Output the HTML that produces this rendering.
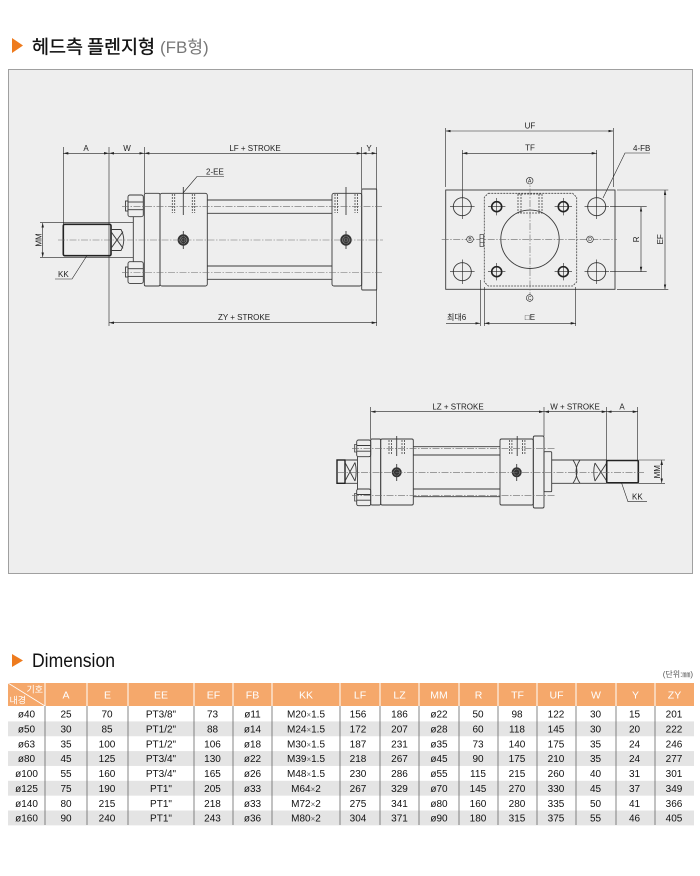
<!DOCTYPE html>
<html><head><meta charset="utf-8">
<style>
html,body{margin:0;padding:0;background:#fff;}
svg{display:block}
.o{fill:none;stroke:#3a3a3a;stroke-width:0.9}
.ob{fill:none;stroke:#222;stroke-width:1.6}
.d{fill:none;stroke:#222;stroke-width:0.6}
.c{fill:none;stroke:#6a6a6a;stroke-width:0.6;stroke-dasharray:7 1.5 1.5 1.5}
.h{fill:none;stroke:#444;stroke-width:0.8;stroke-dasharray:2 1}
.t{font-size:8px;fill:#222}
.hd{font-size:10.5px;fill:#fff}
.r{font-size:10px;fill:#111}
</style></head><body>
<svg width="700" height="876" viewBox="0 0 700 876" xmlns="http://www.w3.org/2000/svg" font-family="'Liberation Sans','Noto Sans CJK KR',sans-serif">
<defs>
<marker id="a" viewBox="0 0 8 4" refX="8" refY="2" markerWidth="5" markerHeight="2.5" orient="auto-start-reverse" markerUnits="userSpaceOnUse"><path d="M0,0 L8,2 L0,4z" fill="#222"/></marker>
</defs>

<!-- Title -->
<polygon points="12,38 23,45.5 12,53" fill="#EE7B1E"/>
<text x="32" y="53.5" font-size="18.5" fill="#111" stroke="#111" stroke-width="0.35" font-family="'Noto Sans CJK KR',sans-serif" textLength="123" lengthAdjust="spacingAndGlyphs">헤드측 플렌지형</text>
<text x="160" y="53" font-size="17" fill="#777" font-family="'Liberation Sans','Noto Sans CJK KR',sans-serif">(FB형)</text>

<!-- Drawing box -->
<rect x="8.5" y="69.5" width="684" height="504" fill="#EEEEEE" stroke="#A0A0A0" stroke-width="1"/>

<!-- ================= LEFT SIDE VIEW ================= -->
<line class="d" x1="63.3" y1="153.3" x2="109" y2="153.3" marker-start="url(#a)" marker-end="url(#a)"/>
<line class="d" x1="109" y1="153.3" x2="144.3" y2="153.3" marker-start="url(#a)" marker-end="url(#a)"/>
<line class="d" x1="144.3" y1="153.3" x2="361.7" y2="153.3" marker-start="url(#a)" marker-end="url(#a)"/>
<line class="d" x1="361.7" y1="153.3" x2="376.7" y2="153.3" marker-start="url(#a)" marker-end="url(#a)"/>
<line class="d" x1="63.3" y1="147" x2="63.3" y2="224"/>
<line class="d" x1="109" y1="147" x2="109" y2="326"/>
<line class="d" x1="144.3" y1="147" x2="144.3" y2="193"/>
<line class="d" x1="361.7" y1="147" x2="361.7" y2="189"/>
<line class="d" x1="376.7" y1="147" x2="376.7" y2="326"/>
<text class="t" x="86" y="151" text-anchor="middle">A</text>
<text class="t" x="127" y="151" text-anchor="middle">W</text>
<text class="t" x="255" y="151" text-anchor="middle">LF + STROKE</text>
<text class="t" x="369" y="151" text-anchor="middle">Y</text>

<line class="d" x1="40" y1="222.7" x2="133.3" y2="222.7"/>
<line class="d" x1="40" y1="257.3" x2="133.3" y2="257.3"/>
<line class="d" x1="42.7" y1="222.7" x2="42.7" y2="257.3" marker-start="url(#a)" marker-end="url(#a)"/>
<text class="t" transform="translate(41.5,240) rotate(-90)" text-anchor="middle">MM</text>
<rect class="ob" x="63.3" y="224.3" width="47.7" height="31.4" rx="1.5"/>
<path class="o" d="M111,229.5 H121 Q126.5,240 121,250.5 H111"/>
<path class="o" d="M111,231.7 L123,248.3 M111,248.3 L123,231.7"/>
<line class="o" x1="133.3" y1="216.7" x2="133.3" y2="262"/>

<rect class="o" x="125.5" y="201" width="2.5" height="10" fill="#ddd"/>
<rect class="o" x="128" y="195" width="15.3" height="21.7" rx="2"/>
<line class="o" x1="128" y1="202" x2="143.3" y2="202"/>
<line class="o" x1="128" y1="209.7" x2="143.3" y2="209.7"/>
<rect class="o" x="125.5" y="267" width="2.5" height="10" fill="#ddd"/>
<rect class="o" x="128" y="261.7" width="15.3" height="21.7" rx="2"/>
<line class="o" x1="128" y1="268.7" x2="143.3" y2="268.7"/>
<line class="o" x1="128" y1="276.4" x2="143.3" y2="276.4"/>

<rect class="o" x="144.3" y="193.3" width="15.7" height="92.7" rx="1.5"/>
<rect class="o" x="160" y="193.3" width="47.3" height="92.7" rx="2"/>
<line class="o" x1="207.3" y1="200" x2="332" y2="200"/>
<line class="o" x1="207.3" y1="213.3" x2="332" y2="213.3"/>
<line class="o" x1="207.3" y1="266" x2="332" y2="266"/>
<line class="o" x1="207.3" y1="279.3" x2="332" y2="279.3"/>
<rect class="o" x="332" y="193.3" width="29.7" height="92.7" rx="2"/>
<rect class="o" x="361.7" y="189" width="15" height="101" rx="1"/>

<g class="h">
<line x1="172.3" y1="194" x2="172.3" y2="213"/><line x1="174.7" y1="194" x2="174.7" y2="213"/>
<line x1="192.3" y1="194" x2="192.3" y2="213"/><line x1="194.7" y1="194" x2="194.7" y2="213"/>
<line x1="335" y1="194" x2="335" y2="213"/><line x1="337.4" y1="194" x2="337.4" y2="213"/>
<line x1="355" y1="194" x2="355" y2="213"/><line x1="357.4" y1="194" x2="357.4" y2="213"/>
</g>
<line class="o" x1="183.3" y1="187" x2="183.3" y2="215" stroke-width="0.6"/>
<line class="o" x1="346" y1="187" x2="346" y2="215" stroke-width="0.6"/>

<circle cx="183.3" cy="240" r="5.7" fill="#333"/><circle cx="183.3" cy="240" r="3.5" fill="none" stroke="#999" stroke-width="0.6"/><circle cx="183.3" cy="240" r="1.8" fill="none" stroke="#999" stroke-width="0.5"/>
<circle cx="346" cy="240" r="5.7" fill="#333"/><circle cx="346" cy="240" r="3.5" fill="none" stroke="#999" stroke-width="0.6"/><circle cx="346" cy="240" r="1.8" fill="none" stroke="#999" stroke-width="0.5"/>
<line class="o" x1="183.3" y1="231" x2="183.3" y2="249" stroke-width="0.5"/>
<line class="o" x1="346" y1="231" x2="346" y2="249" stroke-width="0.5"/>

<line class="c" x1="58" y1="240" x2="383" y2="240"/>
<line class="c" x1="122" y1="206.7" x2="383" y2="206.7"/>
<line class="c" x1="122" y1="272.5" x2="383" y2="272.5"/>

<line class="d" x1="109" y1="322.7" x2="376.7" y2="322.7" marker-start="url(#a)" marker-end="url(#a)"/>
<text class="t" x="244" y="320" text-anchor="middle">ZY + STROKE</text>

<polyline class="d" points="86.7,256 72,279 55,279"/>
<text class="t" x="58" y="277">KK</text>
<polyline class="d" points="183,193 197,176.5 224,176.5"/>
<text class="t" x="206" y="174.5">2-EE</text>

<!-- ================= RIGHT END VIEW ================= -->
<line class="d" x1="445.7" y1="131" x2="613.3" y2="131" marker-start="url(#a)" marker-end="url(#a)"/>
<line class="d" x1="445.7" y1="128" x2="445.7" y2="187"/>
<line class="d" x1="613.3" y1="128" x2="613.3" y2="187"/>
<text class="t" x="530" y="128.5" text-anchor="middle">UF</text>
<line class="d" x1="462.3" y1="153.3" x2="596.7" y2="153.3" marker-start="url(#a)" marker-end="url(#a)"/>
<line class="d" x1="462.3" y1="150" x2="462.3" y2="197"/>
<line class="d" x1="596.7" y1="150" x2="596.7" y2="197"/>
<text class="t" x="530" y="150.5" text-anchor="middle">TF</text>
<polyline class="d" points="603,198 625,153 650,153"/>
<text class="t" x="633" y="151">4-FB</text>

<rect class="o" x="445.7" y="190" width="169.3" height="99.3"/>
<path class="h" d="M488.3,193.3 H572.7 L576.7,197.3 V282 L572.7,286 H488.3 L484.3,282 V197.3 Z"/>
<rect class="h" x="518" y="194" width="24" height="19"/>
<line class="h" x1="521" y1="194" x2="521" y2="213"/><line class="h" x1="539" y1="194" x2="539" y2="213"/>
<circle class="o" cx="530" cy="239.3" r="29.2"/>

<g class="o">
<circle cx="462.3" cy="206.7" r="9"/><circle cx="596.7" cy="206.7" r="9"/>
<circle cx="462.3" cy="271.7" r="9"/><circle cx="596.7" cy="271.7" r="9"/>
</g>
<g class="d">
<path d="M450,206.7 H474.6 M462.3,194.5 V219 M584.5,206.7 H609 M596.7,194.5 V219"/>
<path d="M450,271.7 H474.6 M462.3,259.5 V284 M584.5,271.7 H609 M596.7,259.5 V284"/>
</g>
<g fill="none" stroke="#222" stroke-width="1.6">
<circle cx="496.7" cy="206.7" r="5"/><circle cx="563.3" cy="206.7" r="5"/>
<circle cx="496.7" cy="271.7" r="5"/><circle cx="563.3" cy="271.7" r="5"/>
</g>
<g class="d">
<path d="M488,206.7 H505.4 M496.7,198 V215.4 M554.6,206.7 H572 M563.3,198 V215.4"/>
<path d="M488,271.7 H505.4 M496.7,263 V280.4 M554.6,271.7 H572 M563.3,263 V280.4"/>
</g>
<line class="c" x1="441.7" y1="239.3" x2="617" y2="239.3"/>
<line class="c" x1="530" y1="177" x2="530" y2="302"/>

<g font-size="5" text-anchor="middle" fill="#222">
<circle cx="529.7" cy="180.7" r="3.3" fill="#eee" stroke="#222" stroke-width="0.6"/><text x="529.7" y="182.5">A</text>
<circle cx="470" cy="239.3" r="3.3" fill="#eee" stroke="#222" stroke-width="0.6"/><text x="470" y="241.1">B</text>
<circle cx="529.7" cy="298" r="3.3" fill="#eee" stroke="#222" stroke-width="0.6"/><text x="529.7" y="299.8">C</text>
<circle cx="590" cy="239.3" r="3.3" fill="#eee" stroke="#222" stroke-width="0.6"/><text x="590" y="241.1">D</text>
</g>
<rect x="480" y="234.5" width="3.5" height="12" fill="#eee" stroke="#222" stroke-width="0.6"/>
<path class="d" d="M480,238.5 H483.5 M480,242.5 H483.5"/>

<line class="d" x1="610" y1="206.7" x2="646.7" y2="206.7"/>
<line class="d" x1="610" y1="271.7" x2="646.7" y2="271.7"/>
<line class="d" x1="641" y1="206.7" x2="641" y2="271.7" marker-start="url(#a)" marker-end="url(#a)"/>
<text class="t" transform="translate(639,239.3) rotate(-90)" text-anchor="middle">R</text>
<line class="d" x1="617" y1="190" x2="668.3" y2="190"/>
<line class="d" x1="617" y1="289.3" x2="668.3" y2="289.3"/>
<line class="d" x1="665" y1="190" x2="665" y2="289.3" marker-start="url(#a)" marker-end="url(#a)"/>
<text class="t" transform="translate(663,239.3) rotate(-90)" text-anchor="middle">EF</text>

<line class="d" x1="484.3" y1="287" x2="484.3" y2="326"/>
<line class="d" x1="575.7" y1="287" x2="575.7" y2="326"/>
<line class="d" x1="480.3" y1="280" x2="480.3" y2="326"/>
<line class="d" x1="484.3" y1="323.3" x2="575.7" y2="323.3" marker-start="url(#a)" marker-end="url(#a)"/>
<line class="d" x1="446" y1="323.3" x2="480.3" y2="323.3" marker-end="url(#a)"/>
<text class="t" x="530" y="320" text-anchor="middle">□E</text>
<text class="t" x="447" y="320" font-size="7.5">최대6</text>

<!-- ================= BOTTOM VIEW ================= -->
<line class="d" x1="370.7" y1="411.7" x2="544" y2="411.7" marker-start="url(#a)" marker-end="url(#a)"/>
<line class="d" x1="544" y1="411.7" x2="606.7" y2="411.7" marker-start="url(#a)" marker-end="url(#a)"/>
<line class="d" x1="606.7" y1="411.7" x2="637.7" y2="411.7" marker-start="url(#a)" marker-end="url(#a)"/>
<line class="d" x1="370.7" y1="407" x2="370.7" y2="439"/>
<line class="d" x1="544" y1="407" x2="544" y2="436"/>
<line class="d" x1="606.7" y1="407" x2="606.7" y2="460"/>
<line class="d" x1="637.7" y1="407" x2="637.7" y2="460"/>
<text class="t" x="458" y="409.5" text-anchor="middle">LZ + STROKE</text>
<text class="t" x="575" y="409.5" text-anchor="middle">W + STROKE</text>
<text class="t" x="622" y="409.5" text-anchor="middle">A</text>

<rect x="337" y="460" width="8" height="23.3" fill="none" stroke="#222" stroke-width="1.4"/>
<path class="o" d="M345,460 H357 M345,483.3 H357 M345,462.5 L355,481 M345,481 L355,462.5 M355,462.5 Q357.5,471.7 355,481"/>
<line class="o" x1="357.5" y1="456.7" x2="357.5" y2="489"/>
<rect class="o" x="356.7" y="440" width="14" height="16.7" rx="1.8"/>
<path class="o" d="M356.7,445.5 H370.7 M356.7,451.2 H370.7"/>
<rect x="354.5" y="444.5" width="2.2" height="7.5" fill="#ddd" stroke="#3a3a3a" stroke-width="0.7"/>
<rect class="o" x="356.7" y="489" width="14" height="16.7" rx="1.8"/>
<path class="o" d="M356.7,494.5 H370.7 M356.7,500.2 H370.7"/>
<rect x="354.5" y="493.5" width="2.2" height="7.5" fill="#ddd" stroke="#3a3a3a" stroke-width="0.7"/>

<rect class="o" x="370.7" y="439" width="10" height="66" rx="1.2"/>
<rect class="o" x="380.7" y="439" width="32.6" height="66" rx="1.5"/>
<line class="o" x1="413.3" y1="446.7" x2="500" y2="446.7"/>
<line class="o" x1="413.3" y1="455" x2="500" y2="455"/>
<line class="o" x1="413.3" y1="489" x2="500" y2="489"/>
<line class="o" x1="413.3" y1="496.7" x2="500" y2="496.7"/>
<rect class="o" x="500" y="439" width="33.3" height="66" rx="1.5"/>
<rect class="o" x="533.3" y="436" width="10.7" height="72" rx="1.5"/>
<rect class="o" x="544" y="451.7" width="7.7" height="40" rx="1"/>
<path class="o" d="M551.7,460 H606.7 M551.7,483.3 H606.7"/>
<path class="o" d="M573,460 Q581,471.7 573,483.3 M580,460 Q572,471.7 580,483.3"/>
<path class="o" d="M595,463 L606.7,481 M595,481 L606.7,463 M595,463 Q592.5,472 595,481"/>
<rect class="ob" x="606.7" y="460.5" width="31.6" height="22.3" rx="1"/>

<g class="h">
<line x1="389" y1="440" x2="389" y2="455"/><line x1="391.4" y1="440" x2="391.4" y2="455"/>
<line x1="402" y1="440" x2="402" y2="455"/><line x1="404.4" y1="440" x2="404.4" y2="455"/>
<line x1="509.5" y1="440" x2="509.5" y2="455"/><line x1="511.9" y1="440" x2="511.9" y2="455"/>
<line x1="522.5" y1="440" x2="522.5" y2="455"/><line x1="524.9" y1="440" x2="524.9" y2="455"/>
</g>
<line class="o" x1="396.7" y1="436" x2="396.7" y2="456" stroke-width="0.6"/>
<line class="o" x1="517.2" y1="436" x2="517.2" y2="456" stroke-width="0.6"/>
<circle cx="396.7" cy="472.3" r="5" fill="#333"/><circle cx="396.7" cy="472.3" r="3" fill="none" stroke="#999" stroke-width="0.5"/>
<circle cx="516.7" cy="472.3" r="5" fill="#333"/><circle cx="516.7" cy="472.3" r="3" fill="none" stroke="#999" stroke-width="0.5"/>
<line class="o" x1="396.7" y1="464" x2="396.7" y2="481" stroke-width="0.5"/>
<line class="o" x1="516.7" y1="464" x2="516.7" y2="481" stroke-width="0.5"/>

<line class="c" x1="338" y1="472.3" x2="644" y2="472.3"/>
<line class="c" x1="352" y1="448.3" x2="556" y2="448.3"/>
<line class="c" x1="352" y1="495.3" x2="556" y2="495.3"/>

<line class="d" x1="638.3" y1="460" x2="665" y2="460"/>
<line class="d" x1="638.3" y1="483.3" x2="665" y2="483.3"/>
<line class="d" x1="661.7" y1="460" x2="661.7" y2="483.3" marker-start="url(#a)" marker-end="url(#a)"/>
<text class="t" transform="translate(660,471.7) rotate(-90)" text-anchor="middle">MM</text>
<polyline class="d" points="621.7,483.3 628,501.7 647,501.7"/>
<text class="t" x="632" y="499.7">KK</text>

<!-- ================= Dimension ================= -->
<polygon points="12,654 23,660.5 12,667" fill="#EE7B1E"/>
<text x="32" y="667" font-size="19" fill="#111" textLength="83" lengthAdjust="spacingAndGlyphs">Dimension</text>
<text x="693" y="677" font-size="8" fill="#555" text-anchor="end">(단위:㎜)</text>

<rect x="8" y="683" width="686" height="23" fill="#F5A86B"/>
<g fill="#E4E4E4">
<rect x="8" y="721.4" width="686" height="14.86"/>
<rect x="8" y="751.1" width="686" height="14.86"/>
<rect x="8" y="780.8" width="686" height="14.86"/>
<rect x="8" y="810.5" width="686" height="14.86"/>
</g>
<g stroke="#fff" stroke-width="1">
<line x1="45" y1="683" x2="45" y2="706"/><line x1="87" y1="683" x2="87" y2="706"/><line x1="128" y1="683" x2="128" y2="706"/><line x1="194" y1="683" x2="194" y2="706"/><line x1="233" y1="683" x2="233" y2="706"/><line x1="272" y1="683" x2="272" y2="706"/><line x1="340" y1="683" x2="340" y2="706"/><line x1="380" y1="683" x2="380" y2="706"/><line x1="419" y1="683" x2="419" y2="706"/><line x1="459" y1="683" x2="459" y2="706"/><line x1="498" y1="683" x2="498" y2="706"/><line x1="537" y1="683" x2="537" y2="706"/><line x1="576" y1="683" x2="576" y2="706"/><line x1="616" y1="683" x2="616" y2="706"/><line x1="655" y1="683" x2="655" y2="706"/>
<line x1="8" y1="683" x2="45" y2="706" stroke-width="0.8"/>
</g>
<g stroke="#666" stroke-width="0.8">
<line x1="45" y1="706" x2="45" y2="825"/><line x1="87" y1="706" x2="87" y2="825"/><line x1="128" y1="706" x2="128" y2="825"/><line x1="194" y1="706" x2="194" y2="825"/><line x1="233" y1="706" x2="233" y2="825"/><line x1="272" y1="706" x2="272" y2="825"/><line x1="340" y1="706" x2="340" y2="825"/><line x1="380" y1="706" x2="380" y2="825"/><line x1="419" y1="706" x2="419" y2="825"/><line x1="459" y1="706" x2="459" y2="825"/><line x1="498" y1="706" x2="498" y2="825"/><line x1="537" y1="706" x2="537" y2="825"/><line x1="576" y1="706" x2="576" y2="825"/><line x1="616" y1="706" x2="616" y2="825"/><line x1="655" y1="706" x2="655" y2="825"/>
</g>
<text x="43" y="692.5" font-size="9" fill="#fff" text-anchor="end">기호</text>
<text x="9.5" y="703.5" font-size="9" fill="#fff">내경</text>
<text class="hd" y="698.5" text-anchor="middle"><tspan x="66">A</tspan><tspan x="107.5">E</tspan><tspan x="161">EE</tspan><tspan x="213.5">EF</tspan><tspan x="252.5">FB</tspan><tspan x="306">KK</tspan><tspan x="360">LF</tspan><tspan x="399.5">LZ</tspan><tspan x="439">MM</tspan><tspan x="478.5">R</tspan><tspan x="517.5">TF</tspan><tspan x="556.5">UF</tspan><tspan x="596">W</tspan><tspan x="635.5">Y</tspan><tspan x="674.5">ZY</tspan></text>

<g class="r" text-anchor="middle">
<text y="717.6"><tspan x="26.5">ø40</tspan><tspan x="66">25</tspan><tspan x="107">70</tspan><tspan x="161">PT3/8"</tspan><tspan x="212.5">73</tspan><tspan x="252.5">ø11</tspan><tspan x="306">M20<tspan font-size="8" fill="#666">×</tspan>1.5</tspan><tspan x="358">156</tspan><tspan x="399.5">186</tspan><tspan x="439">ø22</tspan><tspan x="478">50</tspan><tspan x="517">98</tspan><tspan x="556">122</tspan><tspan x="595.5">30</tspan><tspan x="634.5">15</tspan><tspan x="674">201</tspan></text>
<text y="732.5"><tspan x="26.5">ø50</tspan><tspan x="66">30</tspan><tspan x="107">85</tspan><tspan x="161">PT1/2"</tspan><tspan x="212.5">88</tspan><tspan x="252.5">ø14</tspan><tspan x="306">M24<tspan font-size="8" fill="#666">×</tspan>1.5</tspan><tspan x="358">172</tspan><tspan x="399.5">207</tspan><tspan x="439">ø28</tspan><tspan x="478">60</tspan><tspan x="517">118</tspan><tspan x="556">145</tspan><tspan x="595.5">30</tspan><tspan x="634.5">20</tspan><tspan x="674">222</tspan></text>
<text y="747.3"><tspan x="26.5">ø63</tspan><tspan x="66">35</tspan><tspan x="107">100</tspan><tspan x="161">PT1/2"</tspan><tspan x="212.5">106</tspan><tspan x="252.5">ø18</tspan><tspan x="306">M30<tspan font-size="8" fill="#666">×</tspan>1.5</tspan><tspan x="358">187</tspan><tspan x="399.5">231</tspan><tspan x="439">ø35</tspan><tspan x="478">73</tspan><tspan x="517">140</tspan><tspan x="556">175</tspan><tspan x="595.5">35</tspan><tspan x="634.5">24</tspan><tspan x="674">246</tspan></text>
<text y="762.2"><tspan x="26.5">ø80</tspan><tspan x="66">45</tspan><tspan x="107">125</tspan><tspan x="161">PT3/4"</tspan><tspan x="212.5">130</tspan><tspan x="252.5">ø22</tspan><tspan x="306">M39<tspan font-size="8" fill="#666">×</tspan>1.5</tspan><tspan x="358">218</tspan><tspan x="399.5">267</tspan><tspan x="439">ø45</tspan><tspan x="478">90</tspan><tspan x="517">175</tspan><tspan x="556">210</tspan><tspan x="595.5">35</tspan><tspan x="634.5">24</tspan><tspan x="674">277</tspan></text>
<text y="777"><tspan x="26.5">ø100</tspan><tspan x="66">55</tspan><tspan x="107">160</tspan><tspan x="161">PT3/4"</tspan><tspan x="212.5">165</tspan><tspan x="252.5">ø26</tspan><tspan x="306">M48<tspan font-size="8" fill="#666">×</tspan>1.5</tspan><tspan x="358">230</tspan><tspan x="399.5">286</tspan><tspan x="439">ø55</tspan><tspan x="478">115</tspan><tspan x="517">215</tspan><tspan x="556">260</tspan><tspan x="595.5">40</tspan><tspan x="634.5">31</tspan><tspan x="674">301</tspan></text>
<text y="791.9"><tspan x="26.5">ø125</tspan><tspan x="66">75</tspan><tspan x="107">190</tspan><tspan x="161">PT1"</tspan><tspan x="212.5">205</tspan><tspan x="252.5">ø33</tspan><tspan x="306">M64<tspan font-size="8" fill="#666">×</tspan>2</tspan><tspan x="358">267</tspan><tspan x="399.5">329</tspan><tspan x="439">ø70</tspan><tspan x="478">145</tspan><tspan x="517">270</tspan><tspan x="556">330</tspan><tspan x="595.5">45</tspan><tspan x="634.5">37</tspan><tspan x="674">349</tspan></text>
<text y="806.8"><tspan x="26.5">ø140</tspan><tspan x="66">80</tspan><tspan x="107">215</tspan><tspan x="161">PT1"</tspan><tspan x="212.5">218</tspan><tspan x="252.5">ø33</tspan><tspan x="306">M72<tspan font-size="8" fill="#666">×</tspan>2</tspan><tspan x="358">275</tspan><tspan x="399.5">341</tspan><tspan x="439">ø80</tspan><tspan x="478">160</tspan><tspan x="517">280</tspan><tspan x="556">335</tspan><tspan x="595.5">50</tspan><tspan x="634.5">41</tspan><tspan x="674">366</tspan></text>
<text y="821.6"><tspan x="26.5">ø160</tspan><tspan x="66">90</tspan><tspan x="107">240</tspan><tspan x="161">PT1"</tspan><tspan x="212.5">243</tspan><tspan x="252.5">ø36</tspan><tspan x="306">M80<tspan font-size="8" fill="#666">×</tspan>2</tspan><tspan x="358">304</tspan><tspan x="399.5">371</tspan><tspan x="439">ø90</tspan><tspan x="478">180</tspan><tspan x="517">315</tspan><tspan x="556">375</tspan><tspan x="595.5">55</tspan><tspan x="634.5">46</tspan><tspan x="674">405</tspan></text>
</g>
</svg>
</body></html>
